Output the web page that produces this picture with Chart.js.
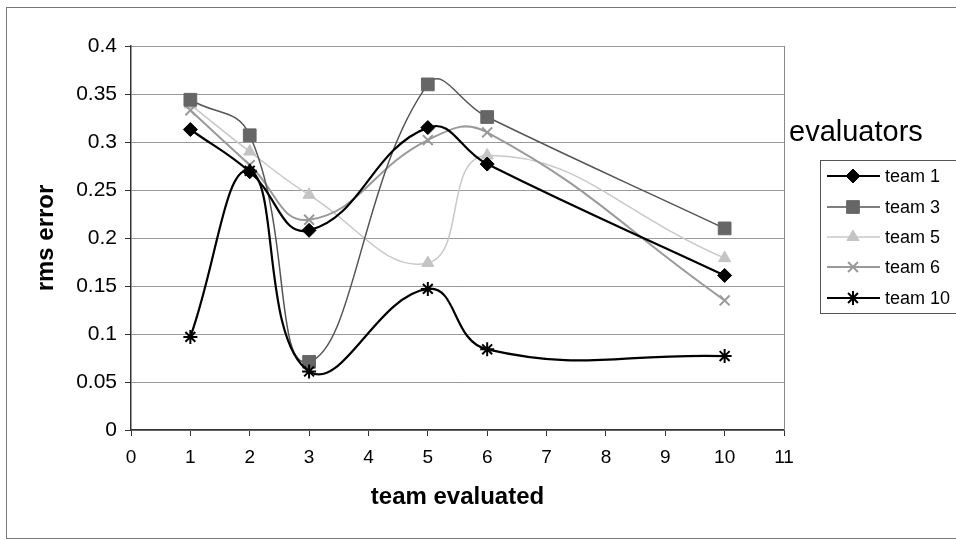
<!DOCTYPE html>
<html>
<head>
    <title>rms error by team evaluated</title>
    <script src="https://cdn.jsdelivr.net/npm/chart.js"></script>
    <style>
        body { margin: 0; background: #fff; }
    </style>
</head>
<body>
    <canvas id="myChart" width="956" height="540"></canvas>
    <script>
    // data
    const teamsEvaluated = [1, 2, 3, 5, 6, 10];
    const team1 = [0.313, 0.269, 0.208, 0.315, 0.277, 0.161];
    const team3 = [0.344, 0.307, 0.071, 0.360, 0.326, 0.210];
    const team5 = [0.339, 0.290, 0.245, 0.174, 0.286, 0.179];
    const team6 = [0.333, 0.276, 0.219, 0.302, 0.310, 0.135];
    const team10 = [0.097, 0.270, 0.061, 0.147, 0.084, 0.077];
    const yTickLabels = ['0', '0.05', '0.1', '0.15', '0.2', '0.25', '0.3', '0.35', '0.4'];

    const FONT = '"Liberation Sans", Arial, sans-serif';
    Chart.defaults.font.family = FONT;
    Chart.defaults.color = '#000';

    function points(vals) {
        return teamsEvaluated.map((x, i) => ({ x: x, y: vals[i] }));
    }

    function series(label, vals, color, fill, style, radius, width, order) {
        return {
            label: label,
            data: points(vals),
            borderColor: color,
            borderWidth: width,
            pointStyle: style,
            pointRadius: radius,
            pointHoverRadius: radius,
            pointBackgroundColor: fill,
            pointBorderColor: fill,
            pointBorderWidth: style === 'crossRot' || style === 'star' ? 2 : 1,
            tension: 0.45,
            order: order
        };
    }

    // frame, plot border, legend
    const extras = {
        id: 'extras',
        beforeDraw(chart) {
            const ctx = chart.ctx;
            ctx.save();
            ctx.fillStyle = '#fff';
            ctx.fillRect(0, 0, chart.width, chart.height);
            ctx.strokeStyle = '#777';
            ctx.lineWidth = 1;
            ctx.strokeRect(6.5, 7.5, 970, 531);
            ctx.restore();
        },
        beforeDatasetsDraw(chart) {
            const a = chart.chartArea;
            const ctx = chart.ctx;
            ctx.save();
            ctx.strokeStyle = '#888';
            ctx.lineWidth = 1;
            ctx.beginPath();
            ctx.moveTo(Math.round(a.right) + 0.5, a.top);
            ctx.lineTo(Math.round(a.right) + 0.5, a.bottom);
            ctx.stroke();
            ctx.restore();
        },
        afterDraw(chart) {
            const ctx = chart.ctx;
            ctx.save();
            ctx.fillStyle = '#000';
            ctx.font = '29px ' + FONT;
            ctx.textBaseline = 'alphabetic';
            ctx.textAlign = 'left';
            ctx.fillText('evaluators', 789, 141);

            ctx.strokeStyle = '#555';
            ctx.lineWidth = 1;
            ctx.strokeRect(820.5, 160.5, 150, 153);

            const rows = [176, 207, 237, 267, 298];
            chart.data.datasets.forEach((ds, i) => {
                const y = rows[i];
                ctx.strokeStyle = ds.borderColor;
                ctx.lineWidth = ds.borderWidth;
                ctx.beginPath();
                ctx.moveTo(827, y);
                ctx.lineTo(880, y);
                ctx.stroke();
                ctx.fillStyle = ds.pointBackgroundColor;
                ctx.strokeStyle = ds.pointBorderColor;
                ctx.lineWidth = ds.pointBorderWidth;
                Chart.helpers.drawPoint(ctx, {
                    pointStyle: ds.pointStyle,
                    radius: ds.pointRadius,
                    rotation: 0,
                    borderWidth: ds.pointBorderWidth
                }, 853, y);
                ctx.fillStyle = '#000';
                ctx.font = '18px ' + FONT;
                ctx.textBaseline = 'middle';
                ctx.fillText(ds.label, 885, y + 1);
            });
            ctx.restore();
        }
    };

    const ctx = document.getElementById('myChart').getContext('2d');
    const myChart = new Chart(ctx, {
        type: 'line',
        data: {
            datasets: [
                series('team 1', team1, '#000', '#000', 'rectRot', 7, 2.2, 1),
                series('team 3', team3, '#555', '#666', 'rect', 9, 1.5, 2),
                series('team 5', team5, '#c8c8c8', '#c4c4c4', 'triangle', 7, 1.5, 4),
                series('team 6', team6, '#9a9a9a', '#9a9a9a', 'crossRot', 7, 2, 3),
                series('team 10', team10, '#000', '#000', 'star', 7, 2.2, 0)
            ]
        },
        options: {
            responsive: false,
            animation: false,
            layout: { padding: { left: 28, right: 172, top: 46, bottom: 24 } },
            plugins: {
                legend: { display: false },
                tooltip: { enabled: false }
            },
            scales: {
                x: {
                    type: 'linear',
                    min: 0,
                    max: 11,
                    ticks: { stepSize: 1, padding: 10, font: { size: 19 } },
                    grid: { color: 'transparent', tickColor: '#333', tickLength: 6, drawTicks: true },
                    border: { color: '#333', width: 1.5 },
                    title: { display: true, text: 'team evaluated', font: { size: 24, weight: 'bold' }, padding: { top: 4, bottom: 4 } },
                    afterFit(scale) { scale.height = 86; }
                },
                y: {
                    min: 0,
                    max: 0.4,
                    ticks: {
                        stepSize: 0.05,
                        padding: 8,
                        font: { size: 21 },
                        callback: (v, i) => yTickLabels[i]
                    },
                    grid: { color: '#999', tickColor: '#333', tickLength: 6 },
                    border: { color: '#333', width: 1.5 },
                    title: { display: true, text: 'rms error', font: { size: 24, weight: 'bold' }, padding: { top: 4, bottom: 4 } },
                    afterFit(scale) { scale.width = 103; }
                }
            }
        },
        plugins: [extras]
    });
    </script>
</body>
</html>
